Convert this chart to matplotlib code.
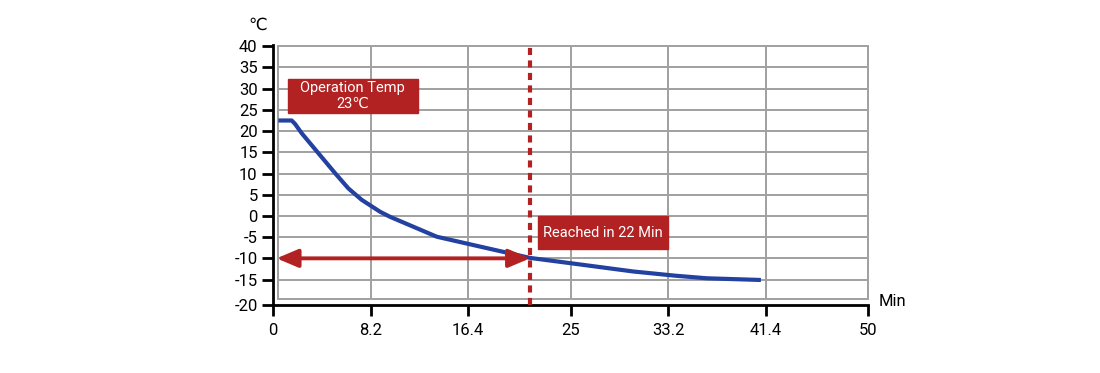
import matplotlib
matplotlib.use("Agg")
import matplotlib.pyplot as plt
from matplotlib.patches import Rectangle

plt.rcParams['font.family'] = ['Roboto', 'DejaVu Sans']

# ---- data ----
time_min = [0.45, 1.57, 1.85, 2.41, 3.81, 5.21, 6.33, 7.45, 8.99, 9.83, 13.76,
            17.67, 21.6, 25.15, 30.28, 33.84, 36.45, 41.0]
temp_c = [22.5, 22.5, 21.7, 19.5, 14.8, 10.1, 6.5, 3.8, 1.0, -0.2, -4.9,
          -7.4, -9.9, -11.2, -13.1, -14.1, -14.7, -15.1]
x_ticks = [0, 8.2, 16.4, 25, 33.2, 41.4, 50]
x_tick_labels = ["0", "8.2", "16.4", "25", "33.2", "41.4", "50"]
y_ticks = [-15, -10, -5, 0, 5, 10, 15, 20, 25, 30, 35, 40]
reach_time = 21.6
reach_temp = -10
op_label = "Operation Temp\n23\u2103"
reach_label = "Reached in 22 Min"

RED = "#B22222"
BLUE = "#2341A0"
GRID = "#A0A0A0"

fig = plt.figure(figsize=(11, 3.73), dpi=100)
ax = fig.add_axes([273/1100, 1-305/373, (868-273)/1100, (305-45)/373])
ax.set_xlim(0, 50)
ax.set_ylim(-21, 40.3)

# grid box
box_left, box_bottom, box_top = 0.42, -19.65, 40
ax.add_patch(Rectangle((box_left, box_bottom), 50-box_left, box_top-box_bottom,
                       fill=False, edgecolor=GRID, lw=1.4, zorder=1, clip_on=False))
ax.hlines([y for y in y_ticks if y < 40], box_left, 50, color=GRID, lw=1.4, zorder=1)
ax.vlines(x_ticks[1:-1], box_bottom, box_top, color=GRID, lw=1.4, zorder=1)

# curve
ax.plot(time_min, temp_c, color=BLUE, lw=3, solid_capstyle='butt',
        solid_joinstyle='round', zorder=3)

# dashed reach line
ax.vlines(reach_time, -21, 40, color=RED, lw=3, linestyles=(0, (1.7, 1.3)), zorder=4)

# double arrow
ax.annotate("", xy=(0.3, reach_temp), xytext=(reach_time, reach_temp),
            arrowprops=dict(arrowstyle="<|-|>,head_length=1.3,head_width=0.55",
                            color=RED, lw=2.8, shrinkA=0, shrinkB=0), zorder=5)

# label boxes
ax.add_patch(Rectangle((1.24, 24.2), 12.16-1.24, 32.24-24.2, color=RED, zorder=6))
ax.text((1.24+12.16)/2, (24.2+32.24)/2, op_label, color="white", ha="center",
        va="center", fontsize=10.5, linespacing=1.2, zorder=7)
ax.add_patch(Rectangle((22.24, -7.85), 33.17-22.24, 7.85, color=RED, zorder=6))
ax.text((22.24+33.17)/2, -7.85/2, reach_label, color="white", ha="center",
        va="center", fontsize=10.5, zorder=7)

# spines/ticks
for s in ["top", "right"]:
    ax.spines[s].set_visible(False)
for s in ["left", "bottom"]:
    ax.spines[s].set_linewidth(2)
ax.set_yticks([-21] + y_ticks)
ax.set_yticklabels(["-20"] + [str(v) for v in y_ticks])
ax.set_xticks(x_ticks)
ax.set_xticklabels(x_tick_labels)
ax.tick_params(axis='both', direction='out', length=8, width=2, labelsize=12, pad=3)
ax.tick_params(axis='x', pad=5)

fig.text(257.7/1100, 1-25/373, "\u2103", ha="center", va="center", fontsize=12)
fig.text(879/1100, 1-301/373, "Min", ha="left", va="center", fontsize=12)

fig.savefig("out.png", dpi=100)
